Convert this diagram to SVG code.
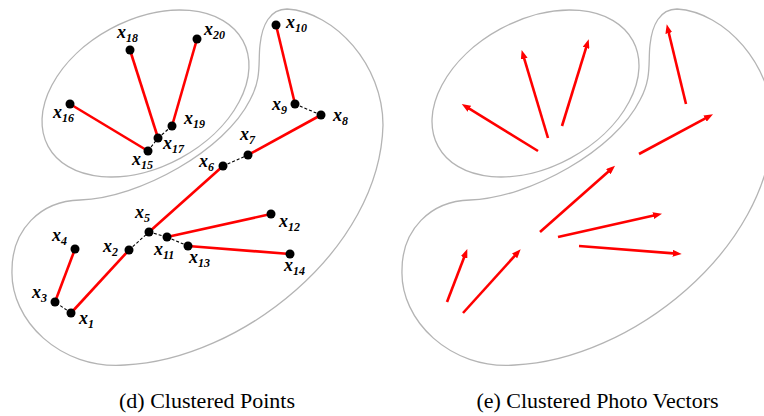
<svg xmlns="http://www.w3.org/2000/svg" width="764" height="416" viewBox="0 0 764 416">
<style>
.blob{fill:none;stroke:#b4b4b4;stroke-width:1.3}
.red{stroke:#ff0000;stroke-width:2.6;fill:none}
.dash{stroke:#000;stroke-width:1.1;stroke-dasharray:3 2;fill:none}
.arr{stroke:#ff0000;stroke-width:2.6;fill:none;marker-end:url(#ah)}
.dot{fill:#000}
.lbl{font-family:'Liberation Serif','DejaVu Serif',serif;font-style:italic;font-weight:bold;font-size:18px;fill:#000}
.sub{font-size:12px}
.cap{font-family:'Liberation Serif','DejaVu Serif',serif;font-size:22px;fill:#000;text-anchor:middle}
</style>
<defs>
<marker id="ah" viewBox="0 0 9 7" markerWidth="9" markerHeight="7" refX="4" refY="3.5" markerUnits="userSpaceOnUse" orient="auto">
<path d="M0,0 L9,3.5 L0,7 Z" fill="#ff0000"/>
</marker>
<path id="big" d="M287,9 C335,12 383,65 383,125 C380,250 240,360 125,365 C60,370 10,320 12,270 C12,230 40,201 80,200 C140,198 225,150 250,100 C262,78 258,62 260,45 C262,25 270,9 287,9 Z"/>
<ellipse id="small" cx="145.5" cy="93.5" rx="110.8" ry="73.5" transform="rotate(-28.5 145.5 93.5)"/>
</defs>
<g id="clusters">
<use href="#big" class="blob"/>
<use href="#small" class="blob"/>
<use href="#big" class="blob" transform="translate(390 0)"/>
<use href="#small" class="blob" transform="translate(390 0)"/>
</g>
<g id="connectors">
<line class="red" x1="71" y1="313" x2="129" y2="250"/>
<line class="dash" x1="129" y1="250" x2="149" y2="232"/>
<line class="red" x1="149" y1="232" x2="223" y2="166"/>
<line class="dash" x1="223" y1="166" x2="248" y2="155"/>
<line class="red" x1="248" y1="155" x2="321" y2="115"/>
<line class="dash" x1="321" y1="115" x2="295" y2="104"/>
<line class="red" x1="295" y1="104" x2="276" y2="25"/>
<line class="dash" x1="71" y1="313" x2="55" y2="302"/>
<line class="red" x1="55" y1="302" x2="75" y2="249"/>
<line class="dash" x1="149" y1="232" x2="167" y2="237"/>
<line class="red" x1="167" y1="237" x2="271" y2="214"/>
<line class="dash" x1="167" y1="237" x2="188" y2="246"/>
<line class="red" x1="188" y1="246" x2="290" y2="254"/>
<line class="red" x1="148" y1="151" x2="70" y2="104"/>
<line class="dash" x1="148" y1="151" x2="158" y2="138"/>
<line class="red" x1="158" y1="138" x2="130" y2="50"/>
<line class="dash" x1="158" y1="138" x2="172" y2="126"/>
<line class="red" x1="172" y1="126" x2="197" y2="39"/>
<line class="arr" x1="538" y1="151" x2="466" y2="106.6"/>
<line class="arr" x1="548" y1="138" x2="523.1" y2="54.8"/>
<line class="arr" x1="562" y1="126" x2="587.2" y2="44.1"/>
<line class="arr" x1="686" y1="104" x2="667.9" y2="29.2"/>
<line class="arr" x1="639" y1="154" x2="708.6" y2="116.7"/>
<line class="arr" x1="540" y1="232" x2="611.3" y2="169"/>
<line class="arr" x1="558" y1="237" x2="657.1" y2="214.8"/>
<line class="arr" x1="579" y1="246" x2="676.7" y2="253.6"/>
<line class="arr" x1="463" y1="313" x2="517.3" y2="253"/>
<line class="arr" x1="447" y1="302" x2="465.5" y2="253.7"/>
</g>
<g id="x1"><circle class="dot" cx="71" cy="313" r="4.5"/><text class="lbl" x="79" y="324">x<tspan class="sub" dy="4">1</tspan></text></g>
<g id="x2"><circle class="dot" cx="129" cy="250" r="4.5"/><text class="lbl" x="103" y="252">x<tspan class="sub" dy="4">2</tspan></text></g>
<g id="x3"><circle class="dot" cx="55" cy="302" r="4.5"/><text class="lbl" x="32" y="298">x<tspan class="sub" dy="4">3</tspan></text></g>
<g id="x4"><circle class="dot" cx="75" cy="249" r="4.5"/><text class="lbl" x="52" y="241">x<tspan class="sub" dy="4">4</tspan></text></g>
<g id="x5"><circle class="dot" cx="149" cy="232" r="4.5"/><text class="lbl" x="135" y="218">x<tspan class="sub" dy="4">5</tspan></text></g>
<g id="x6"><circle class="dot" cx="223" cy="166" r="4.5"/><text class="lbl" x="199" y="167">x<tspan class="sub" dy="4">6</tspan></text></g>
<g id="x7"><circle class="dot" cx="248" cy="155" r="4.5"/><text class="lbl" x="240" y="140">x<tspan class="sub" dy="4">7</tspan></text></g>
<g id="x8"><circle class="dot" cx="321" cy="115" r="4.5"/><text class="lbl" x="333" y="121">x<tspan class="sub" dy="4">8</tspan></text></g>
<g id="x9"><circle class="dot" cx="295" cy="104" r="4.5"/><text class="lbl" x="272" y="110">x<tspan class="sub" dy="4">9</tspan></text></g>
<g id="x10"><circle class="dot" cx="276" cy="25" r="4.5"/><text class="lbl" x="286" y="28">x<tspan class="sub" dy="4">10</tspan></text></g>
<g id="x11"><circle class="dot" cx="167" cy="237" r="4.5"/><text class="lbl" x="154" y="255">x<tspan class="sub" dy="4">11</tspan></text></g>
<g id="x12"><circle class="dot" cx="271" cy="214" r="4.5"/><text class="lbl" x="279" y="227">x<tspan class="sub" dy="4">12</tspan></text></g>
<g id="x13"><circle class="dot" cx="188" cy="246" r="4.5"/><text class="lbl" x="189" y="263">x<tspan class="sub" dy="4">13</tspan></text></g>
<g id="x14"><circle class="dot" cx="290" cy="254" r="4.5"/><text class="lbl" x="284" y="271">x<tspan class="sub" dy="4">14</tspan></text></g>
<g id="x15"><circle class="dot" cx="148" cy="151" r="4.5"/><text class="lbl" x="132" y="165">x<tspan class="sub" dy="4">15</tspan></text></g>
<g id="x16"><circle class="dot" cx="70" cy="104" r="4.5"/><text class="lbl" x="53" y="118">x<tspan class="sub" dy="4">16</tspan></text></g>
<g id="x17"><circle class="dot" cx="158" cy="138" r="4.5"/><text class="lbl" x="163" y="149">x<tspan class="sub" dy="4">17</tspan></text></g>
<g id="x18"><circle class="dot" cx="130" cy="50" r="4.5"/><text class="lbl" x="117" y="38">x<tspan class="sub" dy="4">18</tspan></text></g>
<g id="x19"><circle class="dot" cx="172" cy="126" r="4.5"/><text class="lbl" x="184" y="124">x<tspan class="sub" dy="4">19</tspan></text></g>
<g id="x20"><circle class="dot" cx="197" cy="39" r="4.5"/><text class="lbl" x="204" y="35">x<tspan class="sub" dy="4">20</tspan></text></g>
<g id="captions">
<text class="cap" x="207" y="408">(d) Clustered Points</text>
<text class="cap" x="597.5" y="408">(e) Clustered Photo Vectors</text>
</g>
</svg>
